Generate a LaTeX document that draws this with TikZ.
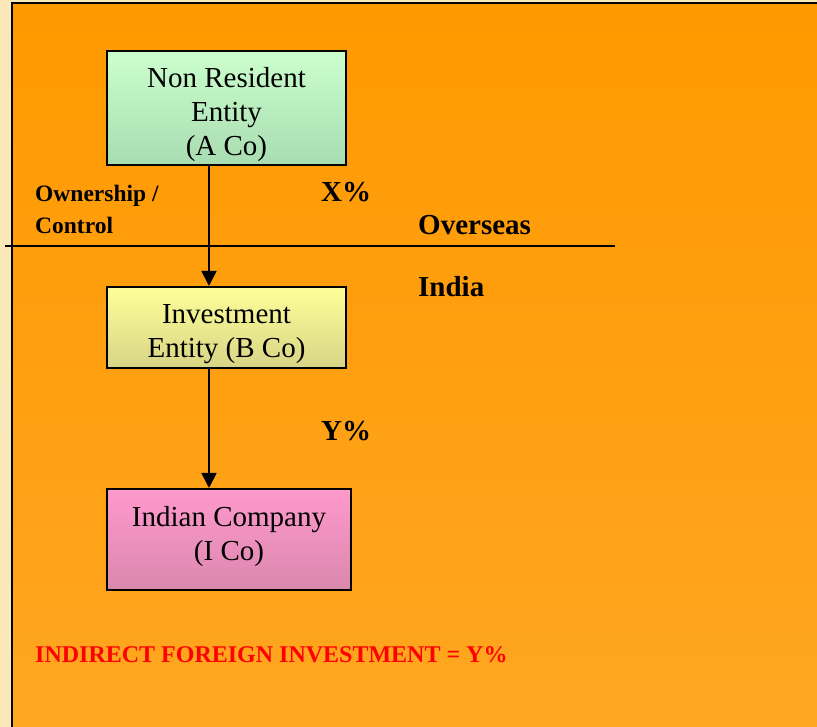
\documentclass[tikz,border=0pt]{standalone}
\usepackage{fontspec}
\setmainfont{Liberation Serif}
\usetikzlibrary{arrows.meta}
\definecolor{beige}{HTML}{FAE8B8}
\definecolor{orTop}{HTML}{FF9900}
\definecolor{orBot}{HTML}{FFA621}
\definecolor{gTop}{HTML}{CCFFCC}
\definecolor{gBot}{HTML}{A8DCB2}
\definecolor{yTop}{HTML}{FFFF99}
\definecolor{yBot}{HTML}{D8D486}
\definecolor{pTop}{HTML}{FF99CC}
\definecolor{pBot}{HTML}{DA88AE}
\definecolor{redtxt}{HTML}{FF0000}
\begin{document}
\begin{tikzpicture}[x=1pt,y=1pt,
  box/.style={draw=black,line width=2pt,inner sep=0pt,align=center,
    font=\fontsize{29}{34}\selectfont},
  conn/.style={line width=1.8pt,-{Triangle[length=15pt,width=15pt]}},
  lbl/.style={anchor=base west,inner sep=0pt,font=\bfseries\fontsize{29}{34}\selectfont},
  small/.style={anchor=base west,inner sep=0pt,font=\bfseries\fontsize{23.5}{28}\selectfont}]
\useasboundingbox (0,0) rectangle (817,727);
\fill[beige] (0,0) rectangle (817,727);
\shade[top color=orTop,bottom color=orBot] (12,0) rectangle (817,724);
\draw[line width=2pt] (12,0) -- (12,724) -- (817,724);

\node[box,top color=gTop,bottom color=gBot,minimum width=239pt,minimum height=114pt] (A) at (226.5,619) {\rule{0pt}{33.8pt}Non Resident\\Entity\\(A Co)};
\node[box,top color=yTop,bottom color=yBot,minimum width=239pt,minimum height=81pt] (B) at (226.5,399.5) {\rule{0pt}{33.2pt}Investment\\Entity (B Co)};
\node[box,top color=pTop,bottom color=pBot,minimum width=244pt,minimum height=101pt] (C) at (229,187.5) {Indian Company\\(I Co)\rule[-11.2pt]{0pt}{11.2pt}};

\coordinate (ax) at (209,0);
\draw[conn] (A.south -| ax) -- (B.north -| ax);
\draw[conn] (B.south -| ax) -- (C.north -| ax);

\coordinate (hl) at (5,481);
\coordinate (hr) at (615,481);
\draw[line width=1.5pt] (hl) -- (hr);

\node[small] (own) at (35,525) {Ownership /};
\node[small] (ctl) at (35,493) {Control};
\node[lbl] (xp) at (321,525) {X\%};
\node[lbl] (ovs) at (418,492) {Overseas};
\node[lbl] (ind) at (418,430) {India};
\node[lbl] (yp) at (321,286) {Y\%};
\node[anchor=base west,inner sep=0pt,text=redtxt,font=\bfseries\fontsize{24}{28}\selectfont] (ifi) at (35,64) {INDIRECT FOREIGN INVESTMENT = Y\%};
\end{tikzpicture}
\end{document}
